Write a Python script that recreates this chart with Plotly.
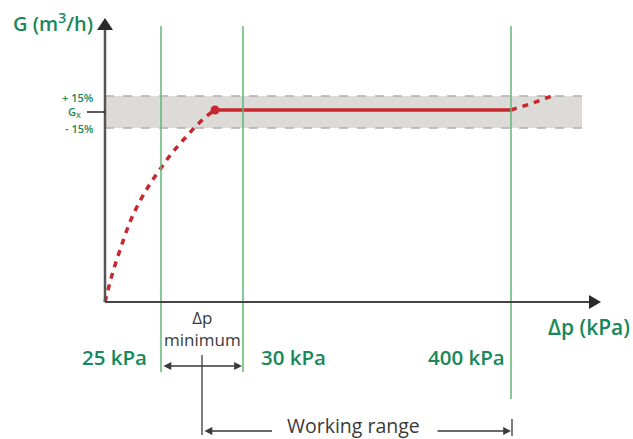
import plotly.graph_objects as go

W, H = 633, 439
GREEN = "#17885a"
VLINE = "#5cb874"
RED = "#c8272e"
DARK = "#3a3a3a"

# Diagram geometry (diagram units match the canvas)
origin = (105, 302)
y_axis_top = 18
x_axis_right = 601
band_top, band_bottom = 96, 128
band_right = 582
gx_level = 111

# Pressure markers
marker_labels = ["25 kPa", "30 kPa", "400 kPa"]
marker_x = [161, 243, 511]
marker_bottom = [372, 372, 399]
marker_label_x = [114, 293, 466]

# Characteristic curve (rising part, dashed)
curve_x = [105, 112, 120, 130, 140, 150, 161, 172, 185, 198, 208, 215]
curve_y = [302, 275, 250, 222, 201, 184, 168, 153, 138, 124, 115, 110]
# Flat controlled part (solid)
flat_x = [215, 511]
flat_y = [110, 110]
# Beyond range (dashed)
tail_x = [511, 530, 552]
tail_y = [110, 104, 96]

fig = go.Figure()

# gray tolerance band
fig.add_shape(type="rect", x0=origin[0], x1=band_right, y0=band_top, y1=band_bottom,
              fillcolor="#dcdbd7", line_width=0, layer="below")
for yy in (band_top, band_bottom):
    fig.add_shape(type="line", x0=origin[0], x1=band_right, y0=yy, y1=yy,
                  line=dict(color="#b0b0ae", width=1.5, dash="dash"), layer="below")

# green vertical lines
for mx, mb in zip(marker_x, marker_bottom):
    fig.add_shape(type="line", x0=mx, x1=mx, y0=26, y1=mb,
                  line=dict(color=VLINE, width=1.5))

# axes
fig.add_shape(type="line", x0=origin[0], x1=origin[0], y0=origin[1], y1=y_axis_top + 10,
              line=dict(color="#555555", width=2.5))
fig.add_shape(type="line", x0=origin[0], x1=x_axis_right - 10, y0=origin[1], y1=origin[1],
              line=dict(color="#444444", width=2))
fig.add_shape(type="path",
              path=f"M {origin[0]-8} {y_axis_top+12} L {origin[0]} {y_axis_top} L {origin[0]+8} {y_axis_top+12} Z",
              fillcolor="#2a2a2a", line_width=0)
fig.add_shape(type="path",
              path=f"M {x_axis_right-12} {origin[1]-7} L {x_axis_right} {origin[1]} L {x_axis_right-12} {origin[1]+7} Z",
              fillcolor="#2a2a2a", line_width=0)

# Gx tick
fig.add_shape(type="line", x0=87, x1=origin[0], y0=gx_level + 1, y1=gx_level + 1,
              line=dict(color="#222222", width=1.5))

# curve
fig.add_trace(go.Scatter(x=curve_x, y=curve_y, mode="lines",
                         line=dict(color=RED, width=3.5, dash="6px,6px", shape="spline"),
                         hoverinfo="skip"))
fig.add_trace(go.Scatter(x=flat_x, y=flat_y, mode="lines",
                         line=dict(color=RED, width=3.5), hoverinfo="skip"))
fig.add_trace(go.Scatter(x=tail_x, y=tail_y, mode="lines",
                         line=dict(color=RED, width=3.5, dash="6px,6px"), hoverinfo="skip"))
fig.add_trace(go.Scatter(x=[flat_x[0]], y=[flat_y[0]], mode="markers",
                         marker=dict(color=RED, size=9), hoverinfo="skip"))

FONT = "Open Sans"
def text(x, y, s, size, color, weight=400, xanchor="center"):
    fig.add_annotation(x=x, y=y, text=s, showarrow=False, xanchor=xanchor, yanchor="middle",
                       font=dict(family=FONT, size=size, color=color, weight=weight))

text(53, 22, "G (m<sup>3</sup>/h)", 20, GREEN, 600)
text(589, 327, "Δp (kPa)", 21, GREEN, 600)
for lbl, lx in zip(marker_labels, marker_label_x):
    text(lx, 357, lbl, 20.5, GREEN, 600)
text(96, 97, "+ 15%", 11, GREEN, 600, "right")
text(83, 112, "G<sub>X</sub>", 11, GREEN, 600, "right")
text(96, 128, "- 15%", 11, GREEN, 600, "right")
text(202, 328, "Δp<br>minimum", 17, DARK)
text(353, 425, "Working range", 19.5, DARK)

# dimension arrows
def arrow(x0, x1, y):
    fig.add_annotation(x=x1, y=y, ax=x0, ay=y, xref="x", yref="y", axref="x", ayref="y",
                       text="", showarrow=True, arrowhead=2, arrowsize=1.2, arrowwidth=1.3,
                       arrowcolor=DARK, arrowside="end+start")

arrow(162, 242, 366)
fig.add_shape(type="line", x0=202, x1=202, y0=355, y1=435, line=dict(color=DARK, width=1.3))
fig.add_annotation(x=272, y=431, ax=203, ay=431, xref="x", yref="y", axref="x", ayref="y",
                   text="", showarrow=True, arrowhead=0, arrowwidth=1.3, arrowcolor=DARK,
                   startarrowhead=2, arrowside="start", startarrowsize=1.2)
fig.add_annotation(x=511, y=431, ax=436, ay=431, xref="x", yref="y", axref="x", ayref="y",
                   text="", showarrow=True, arrowhead=2, arrowsize=1.2, arrowwidth=1.3,
                   arrowcolor=DARK)
fig.add_shape(type="line", x0=512, x1=512, y0=419, y1=436, line=dict(color=DARK, width=1.3))

fig.update_xaxes(range=[0, W], visible=False, fixedrange=True)
fig.update_yaxes(range=[H, 0], visible=False, fixedrange=True)
fig.update_layout(width=W, height=H, margin=dict(l=0, r=0, t=0, b=0),
                  plot_bgcolor="white", paper_bgcolor="white", showlegend=False)

fig.write_html("out.html", config={"displayModeBar": False},
               post_script="document.body.style.margin='0';document.body.style.overflow='hidden';")
